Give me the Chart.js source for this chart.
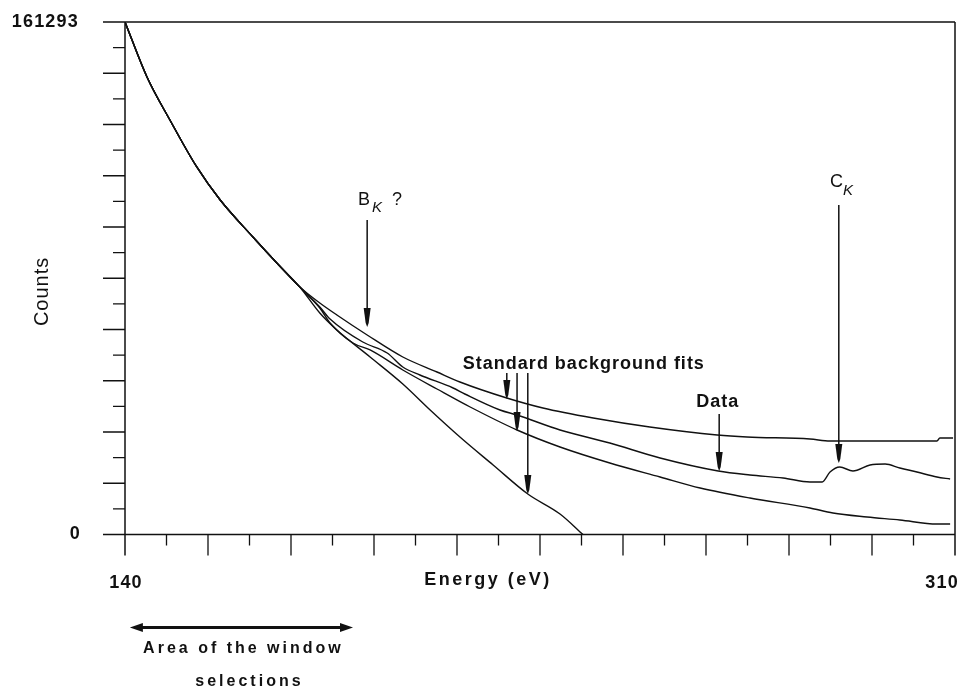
<!DOCTYPE html>
<html>
<head>
    <title>EELS background fits</title>
    <script src="https://cdn.jsdelivr.net/npm/chart.js" type="text/javascript"></script>
    <style>
        body { margin: 0; background: #fff; }
        canvas { display: block; }
    </style>
    <script type="text/javascript">

        // axis range
        var xMin = 140, xMax = 310;
        var yMax = 161293;

        // all four curves share the first part of the spectrum
        var commonE = [140, 144.5, 149.2, 154.7, 159.5, 166.2, 171.1, 175.8];
        var commonCounts = [161293, 143985, 130451, 115660, 105274, 93629, 85446, 77893];

        // upper standard background fit
        var fit1E = [179.9, 183.4, 189.6, 196.9, 203.9, 208.6, 218.2, 225.6, 235.9, 247.5, 261.3, 267.4, 280.3, 284.4, 306.3, 306.9, 309.6];
        var fit1Counts = [72858, 69081, 62787, 55863, 51142, 47995, 42959, 39812, 36665, 33832, 31315, 30685, 30056, 29426, 29426, 30370, 30370];

        // measured data (with the C K edge)
        var dataE = [179.9, 182.0, 188.7, 193.7, 196.9, 200.4, 207.2, 209.6, 216.8, 220.3, 229.1, 239.3, 249.6, 261.5, 268.0, 274.8, 280.3, 282.8, 284.4, 286.4, 289.1, 292.6, 295.7, 298.7, 302.2, 306.3, 309.0];
        var dataCounts = [71599, 67822, 60584, 57122, 52716, 50198, 46106, 44218, 39183, 37609, 32888, 28797, 24076, 19985, 18726, 17782, 16523, 16523, 19670, 21244, 19985, 21873, 22188, 20929, 19670, 18096, 17467];

        // middle standard background fit
        var fit2E = [179.9, 182.0, 186.7, 190.2, 196.9, 203.9, 210.7, 220.3, 229.1, 239.3, 249.6, 257.8, 268.0, 280.3, 285.0, 292.0, 298.7, 306.3, 309.0];
        var fit2Counts = [71285, 66563, 60269, 58066, 51771, 45792, 40127, 32888, 27538, 22502, 18096, 14634, 11487, 8340, 6766, 5508, 4563, 3305, 3305];

        // lowest standard background fit
        var fit3E = [179.9, 183.4, 190.2, 196.9, 202.5, 208.6, 215.4, 222.5, 229.1, 233.8];
        var fit3Counts = [69710, 64360, 55863, 47365, 39183, 30685, 21873, 12746, 6452, 0];

        // labelled arrows: B K?, three fit arrows, Data, C K
        var arrowE = [189.6, 218.2, 220.3, 222.5, 261.7, 286.2];
        var arrowTop = [98980, 50827, 50827, 50827, 37924, 103700];
        var arrowTip = [65304, 42645, 32574, 12746, 19985, 22502];

        var xTickStep = 8.5;
        var yTickCount = 20;

        var FONT = '"Liberation Sans", Arial, Helvetica, sans-serif';

        function toPoints(es, cs) {
            var pts = [];
            for (var i = 0; i < es.length; i++) pts.push({ x: es[i], y: cs[i] });
            return pts;
        }

        function series(es, cs) {
            return {
                data: toPoints(commonE.concat(es), commonCounts.concat(cs)),
                borderColor: '#111',
                borderWidth: 1.4,
                pointRadius: 0,
                fill: false,
                cubicInterpolationMode: 'monotone'
            };
        }

        function spaced(ctx, px) {
            if ('letterSpacing' in ctx) ctx.letterSpacing = px + 'px';
        }

        function downArrow(ctx, x, yTop, yTip) {
            ctx.beginPath();
            ctx.moveTo(x, yTop);
            ctx.lineTo(x, yTip - 6);
            ctx.stroke();
            ctx.beginPath();
            ctx.moveTo(x - 3.5, yTip - 19);
            ctx.lineTo(x + 3.5, yTip - 19);
            ctx.lineTo(x + 1.5, yTip - 4);
            ctx.lineTo(x, yTip);
            ctx.lineTo(x - 1.5, yTip - 4);
            ctx.closePath();
            ctx.fill();
        }

        var framePlugin = {
            id: 'frame',
            afterDraw: function (chart) {
                var ctx = chart.ctx;
                var xs = chart.scales.x, ys = chart.scales.y;
                var L = xs.getPixelForValue(xMin), R = xs.getPixelForValue(xMax);
                var T = ys.getPixelForValue(yMax), B = ys.getPixelForValue(0);
                ctx.save();
                ctx.strokeStyle = '#111';
                ctx.fillStyle = '#111';
                ctx.lineWidth = 1.5;

                // box
                ctx.beginPath();
                ctx.moveTo(L - 22, T); ctx.lineTo(R, T);
                ctx.moveTo(L - 22, B); ctx.lineTo(R, B);
                ctx.moveTo(L, T); ctx.lineTo(L, B + 21);
                ctx.moveTo(R, T); ctx.lineTo(R, B + 21);
                ctx.stroke();

                // ticks
                ctx.lineWidth = 1.3;
                ctx.beginPath();
                var n = Math.round((xMax - xMin) / xTickStep);
                for (var i = 1; i < n; i++) {
                    var px = xs.getPixelForValue(xMin + i * xTickStep);
                    ctx.moveTo(px, B);
                    ctx.lineTo(px, B + (i % 2 === 0 ? 21 : 11));
                }
                for (var j = 1; j < yTickCount; j++) {
                    var py = ys.getPixelForValue(j * yMax / yTickCount);
                    ctx.moveTo(L, py);
                    ctx.lineTo(L - (j % 2 === 0 ? 22 : 12), py);
                }
                ctx.stroke();

                // axis labels
                ctx.font = 'bold 18px ' + FONT;
                spaced(ctx, 1.2);
                ctx.textBaseline = 'middle';
                ctx.textAlign = 'right';
                ctx.fillText('161293', L - 46, T);
                ctx.fillText('0', L - 44, B);
                ctx.textAlign = 'center';
                ctx.fillText(String(xMin), L + 1, B + 49);
                ctx.textAlign = 'right';
                ctx.fillText(String(xMax), R + 4, B + 49);
                ctx.textAlign = 'left';
                spaced(ctx, 2.5);
                ctx.fillText('Energy (eV)', xs.getPixelForValue(201.3), B + 46);

                ctx.save();
                ctx.translate(42, ys.getPixelForValue(76500));
                ctx.rotate(-Math.PI / 2);
                ctx.textAlign = 'center';
                ctx.font = '20px ' + FONT;
                spaced(ctx, 1);
                ctx.fillText('Counts', 0, 0);
                ctx.restore();

                // arrows
                ctx.lineWidth = 1.5;
                for (var k = 0; k < arrowE.length; k++) {
                    downArrow(ctx, xs.getPixelForValue(arrowE[k]),
                        ys.getPixelForValue(arrowTop[k]), ys.getPixelForValue(arrowTip[k]));
                }

                // annotation text
                ctx.textBaseline = 'alphabetic';
                ctx.textAlign = 'left';
                spaced(ctx, 0);
                var bx = xs.getPixelForValue(187.7), by = ys.getPixelForValue(103700);
                ctx.font = '18px ' + FONT;
                ctx.fillText('B', bx, by);
                ctx.fillText('?', bx + 34, by);
                ctx.font = 'italic 15px ' + FONT;
                ctx.fillText('K', bx + 14, by + 7);

                var cx = xs.getPixelForValue(284.4), cy = ys.getPixelForValue(109365);
                ctx.font = '18px ' + FONT;
                ctx.fillText('C', cx, cy);
                ctx.font = 'italic 15px ' + FONT;
                ctx.fillText('K', cx + 13, cy + 8);

                ctx.font = 'bold 18px ' + FONT;
                spaced(ctx, 1);
                ctx.fillText('Standard background fits', xs.getPixelForValue(209.2), ys.getPixelForValue(52086));
                ctx.fillText('Data', xs.getPixelForValue(257.0), ys.getPixelForValue(40127));

                // window selection area below the axis
                var a1 = xs.getPixelForValue(141), a2 = xs.getPixelForValue(186.7);
                var ay = B + 93;
                ctx.lineWidth = 3;
                ctx.beginPath();
                ctx.moveTo(a1 + 8, ay); ctx.lineTo(a2 - 8, ay);
                ctx.stroke();
                ctx.beginPath();
                ctx.moveTo(a1, ay); ctx.lineTo(a1 + 13, ay - 4.5); ctx.lineTo(a1 + 13, ay + 4.5); ctx.closePath();
                ctx.moveTo(a2, ay); ctx.lineTo(a2 - 13, ay - 4.5); ctx.lineTo(a2 - 13, ay + 4.5); ctx.closePath();
                ctx.fill();

                ctx.font = 'bold 16px ' + FONT;
                spaced(ctx, 3);
                ctx.textAlign = 'center';
                ctx.fillText('Area of the window', (a1 + a2) / 2 + 2, B + 118);
                ctx.fillText('selections', (a1 + a2) / 2 + 8, B + 151);
                ctx.restore();
            }
        };

        window.onload = function () {
            var ctx = document.getElementById('eelsChart').getContext('2d');
            new Chart(ctx, {
                type: 'line',
                data: {
                    datasets: [
                        series(fit1E, fit1Counts),
                        series(dataE, dataCounts),
                        series(fit2E, fit2Counts),
                        series(fit3E, fit3Counts)
                    ]
                },
                options: {
                    responsive: false,
                    animation: false,
                    devicePixelRatio: 1,
                    layout: { padding: { left: 125, right: 16, top: 22, bottom: 153.5 } },
                    plugins: { legend: { display: false }, tooltip: { enabled: false } },
                    scales: {
                        x: { type: 'linear', min: xMin, max: xMax, display: false },
                        y: { type: 'linear', min: 0, max: yMax, display: false }
                    }
                },
                plugins: [framePlugin]
            });
        }

    </script>
</head>
<body>
    <canvas id="eelsChart" width="971" height="688"></canvas>
</body>
</html>
